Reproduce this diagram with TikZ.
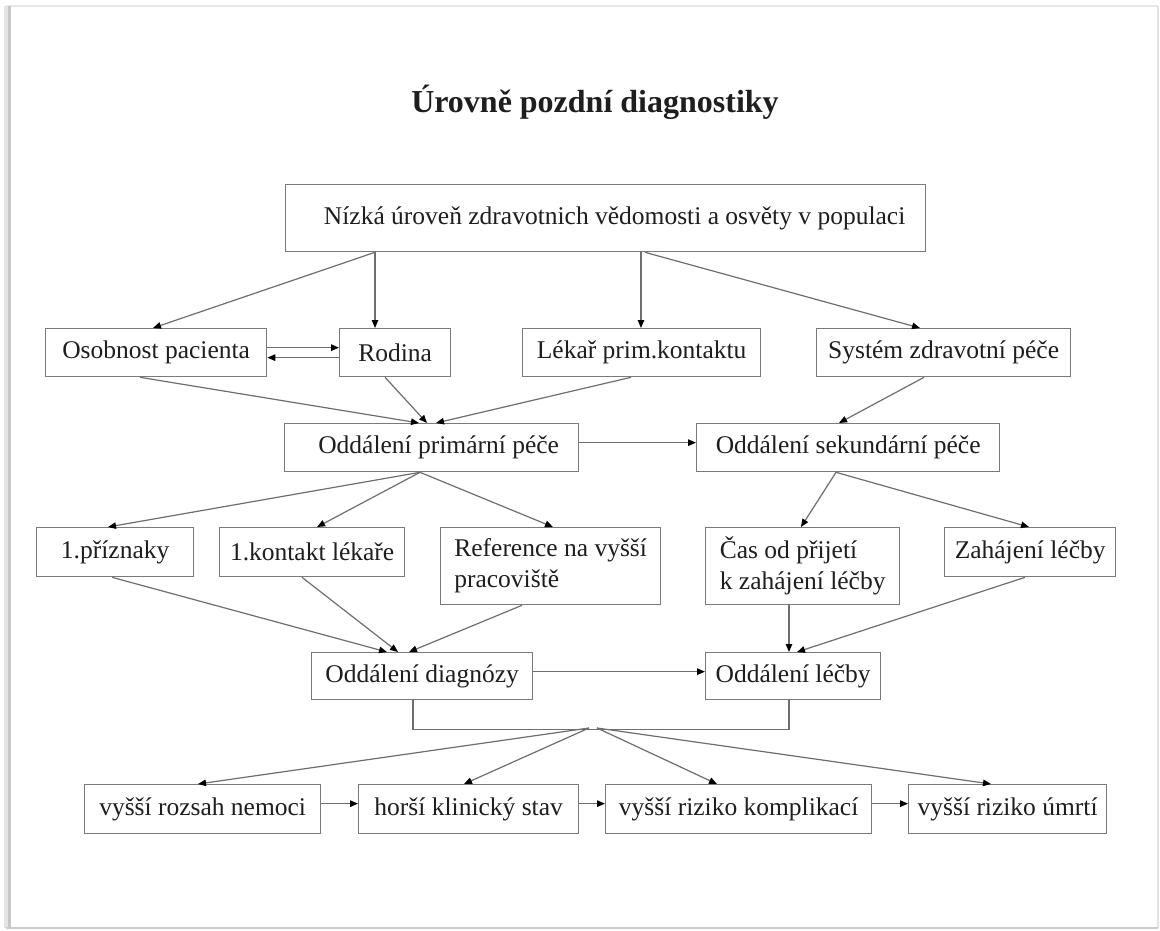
\documentclass[tikz,border=0pt]{standalone}
\usepackage{fontspec}
\setmainfont{Liberation Serif}
\usetikzlibrary{arrows.meta,calc}
\definecolor{boxgray}{HTML}{7A7A7A}
\definecolor{linegray}{HTML}{6E6E6E}
\definecolor{txt}{HTML}{1E1E1E}
\begin{document}
\begin{tikzpicture}[x=1pt,y=-1pt,
  box/.style={draw=boxgray,line width=1.3pt,inner sep=0pt,anchor=north west,
    font=\fontsize{25.5}{31}\selectfont,text=txt},
  conn/.style={draw=linegray,line width=1.2pt},
  arr/.style={conn,-{Triangle[length=8pt,width=6.5pt,black]}},
  framel/.style={line width=2pt}]
\useasboundingbox (0,0) rectangle (1160,930);
% page frame with soft shadow
\fill[white] (6,6) rectangle (1158,928);
\draw[framel,gray!18] (6,6) -- (1158,6);
\draw[framel,gray!22] (1158,6) -- (1158,928);
\fill[gray!20] (4,6) rectangle (8,928);
\fill[gray!45] (8,6) rectangle (11,928);
\draw[framel,gray!40] (6,928) -- (1158,928);

% title
\node[font=\bfseries\fontsize{32}{36}\selectfont,text=txt,anchor=base] (title) at (595,112) {Úrovně pozdní diagnostiky};

% boxes
\node[box,minimum width=640pt,minimum height=67pt] (top) at (285,184) {\hspace*{18pt}Nízká úroveň zdravotnich vědomosti a osvěty v populaci};
\node[box,minimum width=221pt,minimum height=48pt] (osob) at (45,328) {Osobnost pacienta};
\node[box,minimum width=111pt,minimum height=48pt] (rod) at (339,328) {Rodina};
\node[box,minimum width=238pt,minimum height=48pt] (lek) at (522,328) {Lékař prim.kontaktu};
\node[box,minimum width=254pt,minimum height=48pt] (sys) at (816,328) {Systém zdravotní péče};
\node[box,minimum width=294pt,minimum height=48pt] (prim) at (284,423) {\hspace*{14pt}Oddálení primární péče};
\node[box,minimum width=303pt,minimum height=48pt] (sek) at (696,423) {Oddálení sekundární péče};
\node[box,minimum width=157pt,minimum height=49pt] (pri) at (36,527) {1.příznaky};
\node[box,minimum width=185pt,minimum height=49pt] (kon) at (219,527) {1.kontakt lékaře};
\node[box,minimum width=220pt,minimum height=77pt,align=left] (ref) at (440,527) {Reference na vyšší\\pracoviště};
\node[box,minimum width=194pt,minimum height=77pt,align=left] (cas) at (705,527) {Čas od přijetí\\k zahájení léčby};
\node[box,minimum width=171pt,minimum height=49pt] (zah) at (944,527) {Zahájení léčby};
\node[box,minimum width=221pt,minimum height=47pt] (diag) at (311,652) {Oddálení diagnózy};
\node[box,minimum width=175pt,minimum height=47pt] (lecb) at (705,652) {Oddálení léčby};
\node[box,minimum width=236pt,minimum height=49pt] (b1) at (84,784) {vyšší rozsah nemoci};
\node[box,minimum width=220pt,minimum height=49pt] (b2) at (358,784) {horší klinický stav};
\node[box,minimum width=266pt,minimum height=49pt] (b3) at (605,784) {vyšší riziko komplikací};
\node[box,minimum width=198pt,minimum height=49pt] (b4) at (908,784) {vyšší riziko úmrtí};

% connectors: level 1
\draw[arr] ([xshift=90pt]top.south west) -- ([xshift=108pt]osob.north west);
\draw[arr] ([xshift=90pt]top.south west) -- ([xshift=36pt]rod.north west);
\draw[arr] ([xshift=356pt]top.south west) -- ([xshift=119pt]lek.north west);
\draw[arr] ([xshift=360pt]top.south west) -- ([xshift=104pt]sys.north west);
\draw[arr] ([yshift=5pt]osob.east) -- ([yshift=5pt]rod.west);
\draw[arr] ([yshift=-5pt]rod.west) -- ([yshift=-5pt]osob.east);

% level 2
\draw[arr] ([xshift=95pt]osob.south west) -- ([xshift=135pt]prim.north west);
\draw[arr] ([xshift=46pt]rod.south west) -- ([xshift=143pt]prim.north west);
\draw[arr] ([xshift=109pt]lek.south west) -- ([xshift=152pt]prim.north west);
\draw[arr] ([xshift=108pt]sys.south west) -- ([xshift=143pt]sek.north west);
\draw[arr] ([yshift=5pt]prim.east) -- ([yshift=5pt]sek.west);

% level 3
\draw[arr] ([xshift=136pt]prim.south west) -- ([xshift=72pt]pri.north west);
\draw[arr] ([xshift=136pt]prim.south west) -- ([xshift=98pt]kon.north west);
\draw[arr] ([xshift=136pt]prim.south west) -- ([xshift=113pt]ref.north west);
\draw[arr] ([xshift=140pt]sek.south west) -- ([xshift=96pt]cas.north west);
\draw[arr] ([xshift=140pt]sek.south west) -- ([xshift=85pt]zah.north west);

% level 4
\draw[arr] ([xshift=76pt]pri.south west) -- ([xshift=76pt]diag.north west);
\draw[arr] ([xshift=83pt]kon.south west) -- ([xshift=87pt]diag.north west);
\draw[arr] ([xshift=82pt]ref.south west) -- ([xshift=98pt]diag.north west);
\draw[arr] ([xshift=84pt]cas.south west) -- ([xshift=84pt]lecb.north west);
\draw[arr] ([xshift=81pt]zah.south west) -- ([xshift=92pt]lecb.north west);
\draw[arr] ([yshift=4.5pt]diag.east) -- ([yshift=4.5pt]lecb.west);

% bracket and outcomes
\draw[conn] ([xshift=102pt]diag.south west) -- ++(0,29) -| ([xshift=84pt]lecb.south west);
\coordinate (J) at (589,728);
\coordinate (K) at (597,728);
\draw[arr] (J) -- ([xshift=114pt]b1.north west);
\draw[arr] (J) -- ([xshift=106pt]b2.north west);
\draw[arr] (K) -- ([xshift=112pt]b3.north west);
\draw[arr] (K) -- ([xshift=83pt]b4.north west);
\draw[arr] ([yshift=5.5pt]b1.east) -- ([yshift=5.5pt]b2.west);
\draw[arr] ([yshift=5.5pt]b2.east) -- ([yshift=5.5pt]b3.west);
\draw[arr] ([yshift=5.5pt]b3.east) -- ([yshift=5.5pt]b4.west);
\end{tikzpicture}
\end{document}
